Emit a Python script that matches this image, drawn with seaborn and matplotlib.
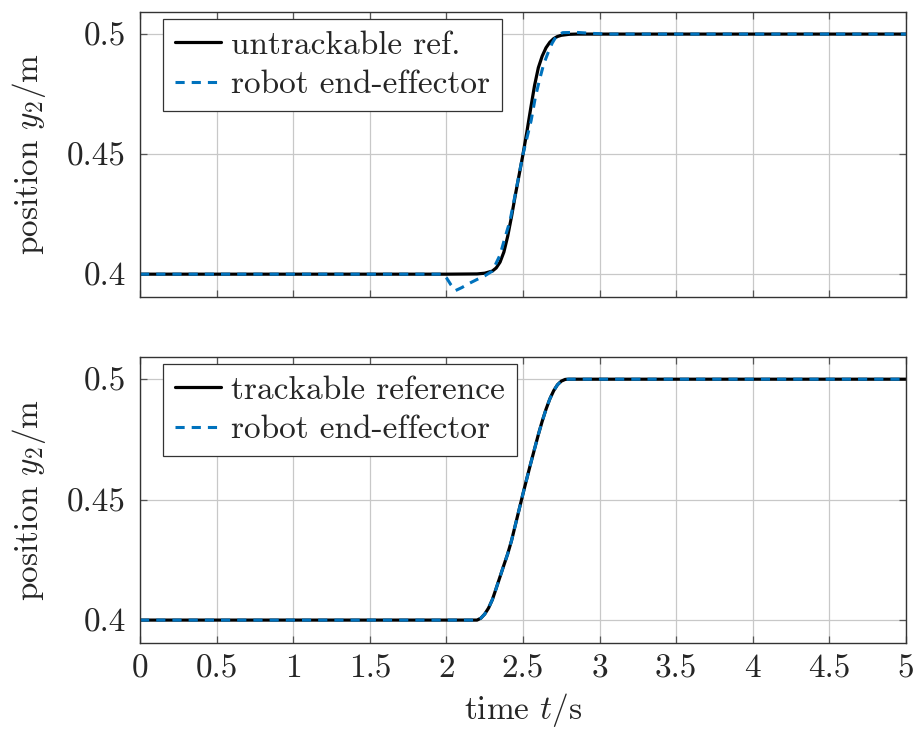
import numpy as np
import pandas as pd
import seaborn as sns
import matplotlib
matplotlib.use("Agg")
import matplotlib.pyplot as plt
from matplotlib.ticker import FormatStrFormatter

# ---------------- data ----------------
# top panel: untrackable reference
t_ref_top = [0.0, 2.0, 2.2, 2.25, 2.3, 2.325, 2.35, 2.375, 2.4, 2.425, 2.45, 2.475, 2.5,
             2.525, 2.55, 2.575, 2.6, 2.625, 2.65, 2.675, 2.7, 2.725, 2.75, 2.8, 2.85, 5.0]
y_ref_top = [0.4, 0.4, 0.4001, 0.4004, 0.4013, 0.4026, 0.4050, 0.4092, 0.4158, 0.4240,
             0.4330, 0.4415, 0.4500, 0.4592, 0.4690, 0.4785, 0.4860, 0.4908, 0.4943,
             0.4966, 0.4981, 0.4990, 0.4995, 0.4999, 0.5, 0.5]
# top panel: robot end-effector
t_rob_top = [0.0, 1.98, 2.0, 2.03, 2.06, 2.1, 2.15, 2.2, 2.25, 2.3, 2.35, 2.382, 2.415,
             2.45, 2.5, 2.553, 2.58, 2.607, 2.635, 2.665, 2.69, 2.72, 2.76, 2.85, 2.95,
             3.05, 5.0]
y_rob_top = [0.4, 0.4, 0.3985, 0.3955, 0.3932, 0.3944, 0.3962, 0.3978, 0.3993, 0.4013,
             0.4080, 0.4152, 0.4222, 0.4335, 0.4500, 0.4640, 0.4735, 0.4808, 0.4875,
             0.4925, 0.4962, 0.4994, 0.5006, 0.5007, 0.5003, 0.5, 0.5]
# bottom panel: trackable reference
t_ref_bot = [0.0, 2.2, 2.225, 2.25, 2.275, 2.3, 2.325, 2.35, 2.375, 2.4, 2.425, 2.45,
             2.475, 2.5, 2.525, 2.55, 2.575, 2.6, 2.625, 2.65, 2.675, 2.7, 2.725, 2.75,
             2.775, 2.8, 5.0]
y_ref_bot = [0.4, 0.4, 0.4008, 0.4025, 0.4050, 0.4085, 0.4132, 0.4180, 0.4228, 0.4275,
             0.4330, 0.4395, 0.4460, 0.4525, 0.4588, 0.4650, 0.4710, 0.4770, 0.4825,
             0.4875, 0.4918, 0.4952, 0.4977, 0.4992, 0.4999, 0.5, 0.5]
# bottom panel: robot end-effector (coincides with the reference)
t_rob_bot = list(t_ref_bot)
y_rob_bot = list(y_ref_bot)

x_ticks = [0, 0.5, 1, 1.5, 2, 2.5, 3, 3.5, 4, 4.5, 5]
y_ticks = [0.4, 0.45, 0.5]

labels_top = ["untrackable ref.", "robot end-effector"]
labels_bot = ["trackable reference", "robot end-effector"]

# ---------------- style ----------------
sns.set_style("white")
plt.rcParams["font.family"] = ["cmr10", "DejaVu Serif"]
plt.rcParams["mathtext.fontset"] = "cm"
plt.rcParams["axes.formatter.use_mathtext"] = True
plt.rcParams["axes.unicode_minus"] = False

BLUE = "#0072BD"
FS = 24

fig = plt.figure(figsize=(9.2, 7.36), dpi=100)
ax1 = fig.add_axes([0.1522, 0.5965, 0.8326, 0.3872])
ax2 = fig.add_axes([0.1522, 0.1264, 0.8326, 0.3885])


def draw(ax, t_ref, y_ref, t_rob, y_rob, labels, show_x):
    sns.lineplot(x=t_ref, y=y_ref, ax=ax, color="black", lw=2.3, label=labels[0], sort=False)
    sns.lineplot(x=t_rob, y=y_rob, ax=ax, color=BLUE, lw=2.2, linestyle=(0, (3.0, 2.3)),
                 label=labels[1], sort=False)
    ax.set_xlim(0, 5)
    ax.set_ylim(0.3905, 0.5092)
    ax.set_xticks(x_ticks)
    ax.set_yticks(y_ticks)
    ax.xaxis.set_major_formatter(FormatStrFormatter("%g"))
    ax.yaxis.set_major_formatter(FormatStrFormatter("%g"))
    ax.grid(True, color="#c8c8c8", lw=0.9)
    ax.tick_params(direction="in", length=5, width=0.9, color="#555555", labelsize=FS,
                   top=True, right=True, bottom=True, left=True)
    ax.tick_params(axis="y", pad=10)
    ax.tick_params(axis="x", pad=8)
    if not show_x:
        ax.tick_params(labelbottom=False)
    for s in ax.spines.values():
        s.set_color("#333333")
        s.set_linewidth(1.0)
    ax.set_ylabel(r"position $y_2$/m", fontsize=FS, labelpad=14)
    ax.set_xlabel("")
    leg = ax.legend(loc="upper left", fontsize=FS, frameon=True, fancybox=False,
                    edgecolor="#333333", framealpha=1.0, handlelength=1.4,
                    handletextpad=0.3, labelspacing=0.3, borderpad=0.35,
                    bbox_to_anchor=(0.03, 0.976), borderaxespad=0.0)
    leg.get_frame().set_linewidth(0.9)


draw(ax1, t_ref_top, y_ref_top, t_rob_top, y_rob_top, labels_top, False)
draw(ax2, t_ref_bot, y_ref_bot, t_rob_bot, y_rob_bot, labels_bot, True)
ax2.set_xlabel(r"time $t$/s", fontsize=FS, labelpad=6)

fig.savefig("out.png", dpi=100)
